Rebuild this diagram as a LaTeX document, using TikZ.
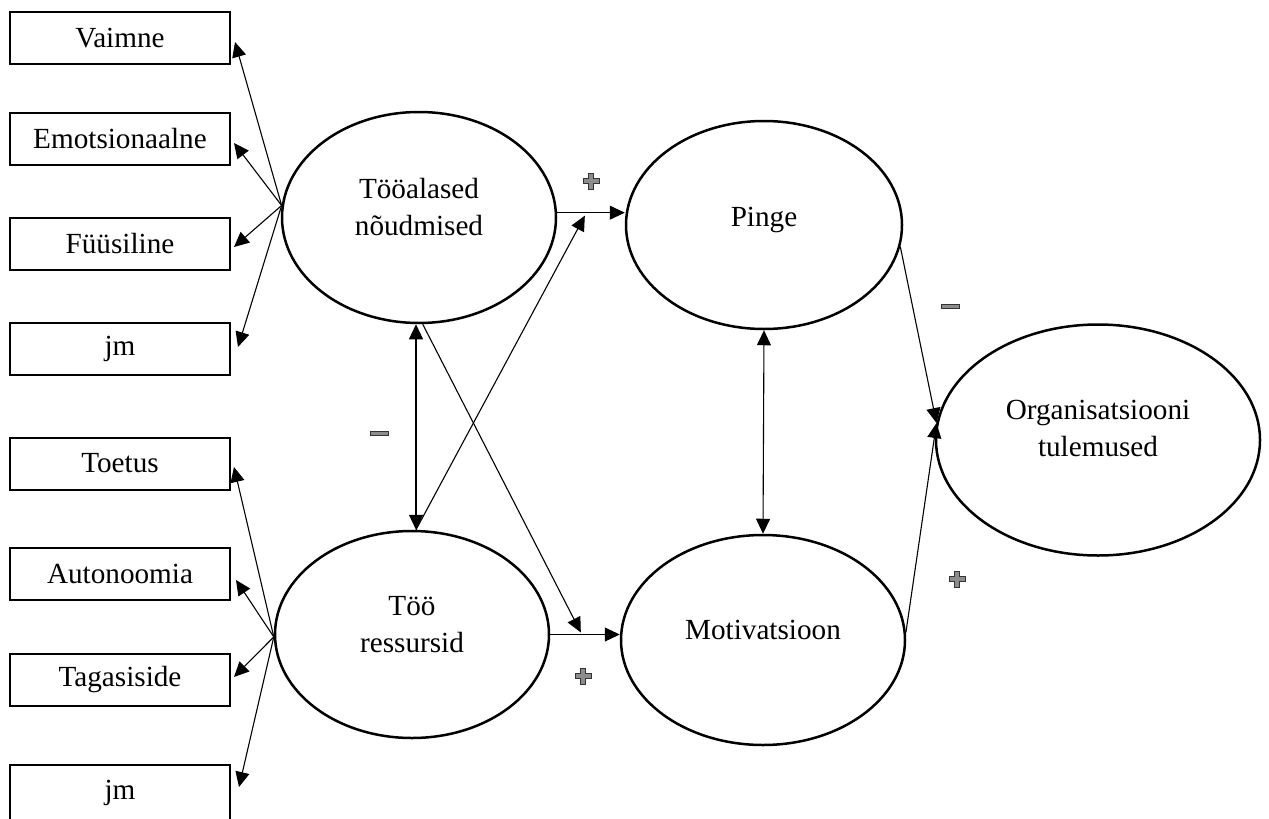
\documentclass[tikz,border=0pt]{standalone}
\usepackage{fontspec}
\setmainfont{Liberation Serif}
\usetikzlibrary{shapes.geometric,arrows.meta,calc}
\begin{document}
\begin{tikzpicture}[x=0.5pt,y=-0.5pt,
  font=\fontsize{14.6}{18.5}\selectfont,
  box/.style={draw,line width=1pt,minimum width=110pt,minimum height=26pt,inner sep=0pt},
  oval/.style={draw,ellipse,line width=1.25pt,inner sep=0pt},
  lbl/.style={align=center,inner sep=0pt},
  tip/.tip={Triangle[length=7.5pt,width=7pt]},
  conn/.style={line width=0.55pt,-tip},
  conn2/.style={line width=0.55pt,tip-tip},
  plussign/.pic={\filldraw[fill=black!45,draw=black!80,line width=0.45pt] (-8,-2.7)--(-2.7,-2.7)--(-2.7,-8)--(2.7,-8)--(2.7,-2.7)--(8,-2.7)--(8,2.7)--(2.7,2.7)--(2.7,8)--(-2.7,8)--(-2.7,2.7)--(-8,2.7)--cycle;},
  minussign/.pic={\filldraw[fill=black!45,draw=black!80,line width=0.45pt] (-9,-2) rectangle (9,2);}
]
\useasboundingbox (0,0) rectangle (1269,819);

% boxes
\node[box] (b1) at (120,38) {Vaimne};
\node[box] (b2) at (120,139) {Emotsionaalne};
\node[box] (b3) at (120,244) {Füüsiline};
\node[box] (b4) at (120,349) {jm};
\node[box] (b5) at (120,463.5) {Toetus};
\node[box] (b6) at (120,573.5) {Autonoomia};
\node[box] (b7) at (120,680) {Tagasiside};
\node[box,minimum height=28pt] (b8) at (120,793) {jm};

% ellipses
\node[oval,minimum width=137pt,minimum height=105.5pt] (ta) at (419,217.5) {};
\node[lbl] (tat) at ([yshift=5pt]ta.center) {Tööalased\\nõudmised};
\node[oval,minimum width=137pt,minimum height=103.5pt] (tr) at (412,634.5) {};
\node[lbl] (trt) at ([yshift=5pt]tr.center) {Töö\\ressursid};
\node[oval,minimum width=138pt,minimum height=104pt] (pi) at (764,225) {};
\node[lbl] (pit) at ([yshift=2.5pt]pi.center) {Pinge};
\node[oval,minimum width=142pt,minimum height=105pt] (mo) at (763,640) {};
\node[lbl] (mot) at ([yshift=5pt]mo.center) {Motivatsioon};
\node[oval,minimum width=162pt,minimum height=115.5pt] (og) at (1098,440) {};
\node[lbl] (ogt) at ([yshift=6pt]og.center) {Organisatsiooni\\tulemused};

% left fans
\coordinate (c1) at (ta.175.5);
\coordinate (c2) at (tr.181);
\draw[conn] (c1) -- ([xshift=2pt,yshift=-2pt]b1.east);
\draw[conn] (c1) -- ([xshift=1.5pt,yshift=-2pt]b2.east);
\draw[conn] (c1) -- ([xshift=1.5pt,yshift=-1.5pt]b3.east);
\draw[conn] (c1) -- ([xshift=3.5pt,yshift=1pt]b4.east);
\draw[conn] (c2) -- ([xshift=1.5pt,yshift=-1.75pt]b5.east);
\draw[conn] (c2) -- ([xshift=2.5pt,yshift=-3.25pt]b6.east);
\draw[conn] (c2) -- ([xshift=1.5pt,yshift=1.5pt]b7.east);
\draw[conn] (c2) -- ([xshift=4pt,yshift=3pt]b8.east);

% middle connectors
\coordinate (vx) at (416,0);
\draw[conn] (ta.2) -- (ta.2 -| pi.west);
\draw[conn] (tr.east) -- (tr.east -| mo.west);
\coordinate (j1) at ($(ta.2)!0.41!(ta.2 -| pi.west)$);
\coordinate (j2) at ($(tr.east)!0.44!(tr.east -| mo.west)$);
\draw[conn2] (vx |- ta.south) -- (vx |- tr.north);
\draw[conn] (vx |- tr.north) -- ([yshift=-1.5pt]j1);
\draw[conn] (ta.-88) -- ([yshift=1pt]j2);
\draw[conn2] (pi.south) -- (mo.north);
\coordinate (oin) at (og.174);
\draw[conn] (pi.-9) -- (oin);
\draw[conn] (mo.3) -- (oin);

% signs
\pic at (591,181) {plussign};
\pic at (583,676) {plussign};
\pic at (957,579) {plussign};
\pic at (379,433) {minussign};
\pic at (950,306) {minussign};
\end{tikzpicture}
\end{document}
